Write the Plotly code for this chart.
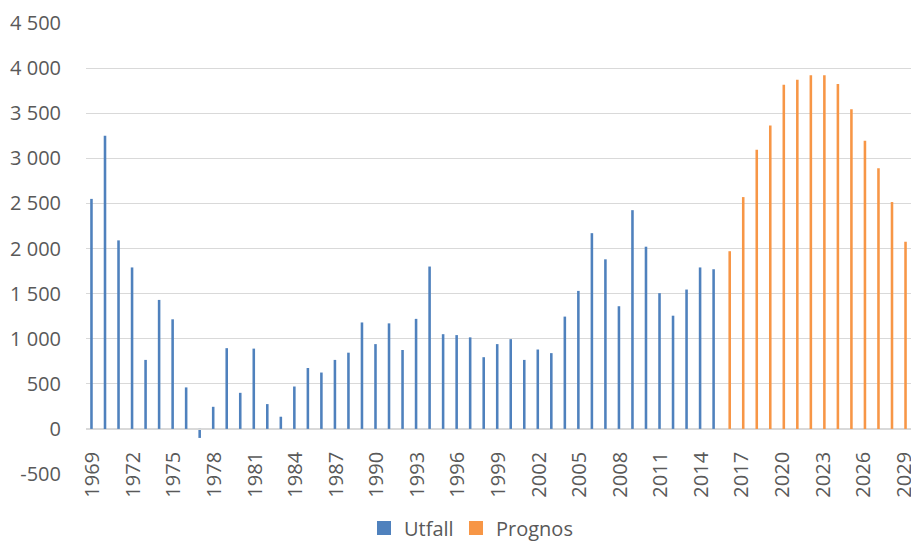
import plotly.graph_objects as go

utfall_years = list(range(1969, 2016))
utfall = [2550, 3250, 2090, 1790, 765, 1430, 1215, 460, -100, 245,
          895, 400, 890, 275, 135, 470, 675, 625, 765, 845,
          1180, 940, 1170, 875, 1220, 1800, 1050, 1040, 1015, 795,
          940, 995, 765, 880, 840, 1245, 1530, 2170, 1880, 1360,
          2425, 2020, 1505, 1255, 1545, 1790, 1770]
prognos_years = list(range(2016, 2030))
prognos = [1970, 2570, 3095, 3365, 3815, 3870, 3920, 3920, 3825, 3545,
           3195, 2890, 2515, 2075]

x_tick_vals = list(range(1969, 2030, 3))
x_tick_text = [str(v) for v in x_tick_vals]
y_tick_vals = list(range(-500, 5000, 500))
y_tick_text = ["-500", "0", "500", "1 000", "1 500", "2 000", "2 500",
               "3 000", "3 500", "4 000", "4 500"]

BLUE = "#4F81BD"
ORANGE = "#F79646"
GRID = "#D9D9D9"
TXT = "#595959"
FONT = "Open Sans"
BW = 0.19

fig = go.Figure()
fig.add_trace(go.Bar(x=utfall_years, y=utfall, name="Utfall",
                     width=BW, offset=-BW, showlegend=False,
                     marker=dict(color=BLUE, line=dict(width=0))))
fig.add_trace(go.Bar(x=prognos_years, y=prognos, name="Prognos",
                     width=BW, offset=0, showlegend=False,
                     marker=dict(color=ORANGE, line=dict(width=0))))
# legend entries (square swatches like the original)
fig.add_trace(go.Scatter(x=[None], y=[None], mode="markers", name="Utfall",
                         legend="legend",
                         marker=dict(symbol="square", size=14, color=BLUE)))
fig.add_trace(go.Scatter(x=[None], y=[None], mode="markers", name="Prognos",
                         legend="legend2",
                         marker=dict(symbol="square", size=14, color=ORANGE)))

leg_common = dict(orientation="h", xref="container", yref="container",
                  xanchor="left", yanchor="middle", y=0.026,
                  font=dict(family=FONT, size=20, color=TXT),
                  itemwidth=30, bgcolor="rgba(0,0,0,0)", borderwidth=0)

fig.update_layout(
    width=911, height=542,
    margin=dict(l=86, r=0, t=23, b=68, autoexpand=False),
    paper_bgcolor="white", plot_bgcolor="white",
    barmode="overlay",
    font=dict(family=FONT, size=20, color=TXT),
    showlegend=True,
    legend=dict(x=364 / 911, **leg_common),
    legend2=dict(x=456 / 911, **leg_common),
    xaxis=dict(
        range=[1968.5, 2029.5],
        tickmode="array", tickvals=x_tick_vals, ticktext=x_tick_text,
        tickangle=-90, ticklabeloverflow="allow",
        showgrid=False, zeroline=False,
        showline=True, linecolor=GRID, linewidth=1,
        anchor="free", position=0.1, automargin=False,
        ticks="outside", ticklen=14, tickcolor="rgba(0,0,0,0)",
        tickfont=dict(family=FONT, size=20, color=TXT),
    ),
    yaxis=dict(
        range=[-500, 4500], automargin=False,
        tickmode="array", tickvals=y_tick_vals, ticktext=y_tick_text,
        showgrid=True, gridcolor=GRID, gridwidth=1,
        zeroline=True, zerolinecolor=GRID, zerolinewidth=1,
        showline=False,
        ticks="outside", ticklen=20, tickcolor="rgba(0,0,0,0)",
        tickfont=dict(family=FONT, size=20, color=TXT),
    ),
)

fig.write_html("out.html", config={"displayModeBar": False})

with open("out.html", "r", encoding="utf-8") as f:
    html = f.read()
html = html.replace("<head>", "<head><style>html,body{margin:0;padding:0;overflow:hidden;}</style>", 1)
with open("out.html", "w", encoding="utf-8") as f:
    f.write(html)
